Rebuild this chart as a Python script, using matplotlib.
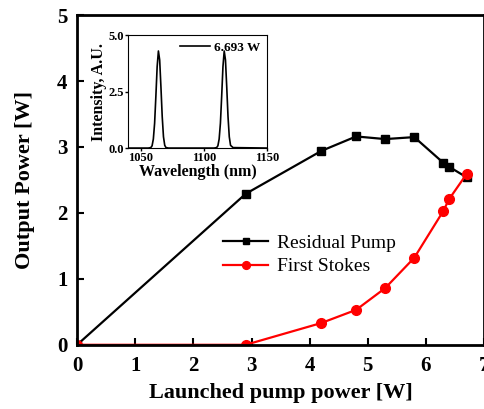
import matplotlib.pyplot as plt

plt.rcParams['font.family'] = ['Liberation Serif', 'DejaVu Serif']

# Данные
pump = [0, 2.9, 4.2, 4.8, 5.3, 5.8, 6.3, 6.4, 6.7]
residual = [0, 2.29, 2.94, 3.16, 3.12, 3.15, 2.76, 2.70, 2.54]
stokes = [0, 0, 0.33, 0.53, 0.86, 1.32, 2.03, 2.21, 2.59]

# Спектр во вставке
wl = [1040, 1056, 1058, 1059, 1060, 1061, 1062, 1063, 1064, 1065, 1066, 1067, 1068, 1069, 1070, 1072,
      1108, 1110, 1111, 1112, 1113, 1114, 1115, 1116, 1117, 1118, 1119, 1120, 1121, 1123, 1150]
intensity = [0, 0, 0.02, 0.1, 0.4, 1.1, 2.3, 3.6, 4.3, 3.9, 2.7, 1.4, 0.5, 0.12, 0.02, 0,
             0, 0.02, 0.1, 0.4, 1.1, 2.3, 3.6, 4.3, 3.9, 2.7, 1.4, 0.5, 0.12, 0.02, 0]

fig = plt.figure(figsize=(4.85, 4.09), dpi=100)
ax = fig.add_axes([0.159, 0.157, 0.839, 0.806])

ax.plot(pump, residual, '-', color='black', marker='s', markersize=6, linewidth=1.6,
        label='Residual Pump')
ax.plot(pump, stokes, '-', color='red', marker='o', markersize=7, linewidth=1.6,
        label='First Stokes')

ax.set_xlim(0, 7)
ax.set_ylim(0, 5)
ax.set_xticks(range(0, 8))
ax.set_yticks(range(0, 6))
ax.tick_params(direction='in', length=5, width=1.5, labelsize=15)
ax.tick_params(axis='x', pad=8)
ax.tick_params(axis='y', pad=7)
for lab in ax.get_xticklabels() + ax.get_yticklabels():
    lab.set_fontweight('bold')
for sp in ax.spines.values():
    sp.set_linewidth(2)
ax.set_xlabel('Launched pump power [W]', fontsize=16, fontweight='bold', labelpad=5)
ax.set_ylabel('Output Power [W]', fontsize=16, fontweight='bold', labelpad=16)
ax.legend(loc='center left', bbox_to_anchor=(0.34, 0.273), frameon=False, fontsize=14,
          handlelength=2.3, handletextpad=0.45, labelspacing=0.3, borderaxespad=0,
          markerscale=0.8)

# Вставка
ins = fig.add_axes([0.264, 0.638, 0.287, 0.276])
ins.plot(wl, intensity, color='black', linewidth=1.2, label='6.693 W')
ins.set_xlim(1040, 1150)
ins.set_ylim(0, 5)
ins.set_xticks([1050, 1100, 1150])
ins.set_yticks([0, 2.5, 5.0])
ins.set_yticklabels(['0.0', '2.5', '5.0'])
ins.tick_params(direction='out', length=2, width=1, labelsize=9, pad=1)
for lab in ins.get_xticklabels() + ins.get_yticklabels():
    lab.set_fontweight('bold')
ins.set_xlabel('Wavelength (nm)', fontsize=11.5, fontweight='bold', labelpad=0)
ins.set_ylabel('Intensity, A.U.', fontsize=11.5, fontweight='bold', labelpad=1)
leg = ins.legend(loc='upper right', frameon=False, fontsize=9.5, handlelength=2.3,
                 handletextpad=0.3, borderaxespad=0.1)
for t in leg.get_texts():
    t.set_fontweight('bold')

plt.savefig('out.png', dpi=100)
